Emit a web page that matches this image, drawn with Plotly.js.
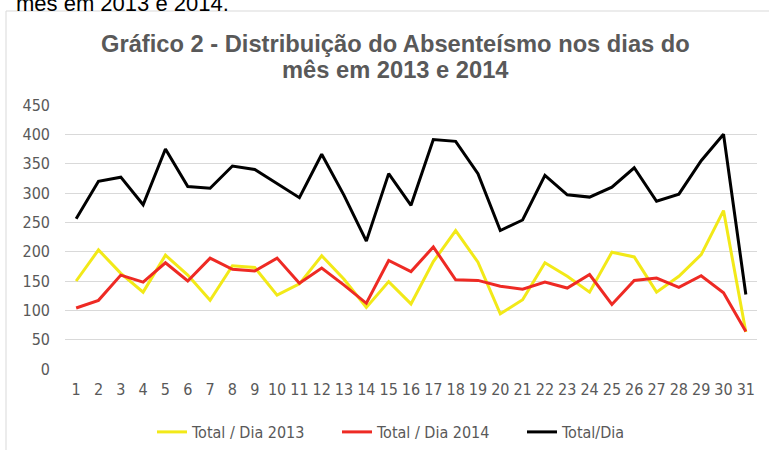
<!DOCTYPE html>
<html><head><meta charset="utf-8">
<script src="https://cdn.plot.ly/plotly-3.0.1.min.js"></script>
<style>body{margin:0;background:#fff}#chart{width:769px;height:450px}</style>
</head><body><div id="chart"></div>
<script>
const days = [1,2,3,4,5,6,7,8,9,10,11,12,13,14,15,16,17,18,19,20,21,22,23,24,25,26,27,28,29,30,31];
const total2013 = [150,203,163,131,194,160,117,176,173,126,145,193,153,105,149,111,183,236,182,94,118,181,158,131,199,191,131,158,195,270,63];
const total2014 = [104,117,160,148,181,150,189,170,167,189,146,172,143,112,185,166,208,152,151,141,136,148,138,161,110,151,155,139,159,130,64];
const totalDia = [256,320,327,280,375,311,308,346,340,316,292,366,296,218,333,279,391,388,333,236,254,330,297,293,310,343,286,298,355,400,127];
const yTicks = [0,50,100,150,200,250,300,350,400,450];
const titleLines = ['Gráfico 2 - Distribuição do Absenteísmo nos dias do', 'mês em 2013 e 2014'];

const W = 769, H = 450, L = 65, R = 12, T = 105, B = 81;
const PW = W - L - R, PH = H - T - B;
const px = x => (x - L) / PW;
const py = y => 1 - (y - T) / PH;

const tickFont = {family:'"DejaVu Sans Condensed", "Liberation Sans", Arial, sans-serif', size:16, color:'#595959'};
const titleFont = {family:'"Liberation Sans", Arial, sans-serif', size:23.7, color:'#595959', weight:'bold'};
const traces = [
  {x:days, y:total2013, name:'Total / Dia 2013', mode:'lines', line:{color:'#f2e918', width:3}},
  {x:days, y:total2014, name:'Total / Dia 2014', mode:'lines', line:{color:'#ee2a24', width:3}},
  {x:days, y:totalDia, name:'Total/Dia', mode:'lines', line:{color:'#000000', width:3}}
];
const layout = {
  width:W, height:H,
  margin:{l:L, r:R, t:T, b:B},
  paper_bgcolor:'#fff', plot_bgcolor:'#fff',
  xaxis:{range:[0.5,31.5], tickmode:'array', tickvals:days, ticktext:days.map(String), showgrid:false, zeroline:false, showline:false, ticks:'', ticklabelstandoff:9, tickfont:tickFont, fixedrange:true},
  yaxis:{range:[0,450], tickmode:'array', tickvals:yTicks, showgrid:true, gridcolor:'#d9d9d9', gridwidth:1, zeroline:false, showline:false, ticks:'', ticklabelstandoff:14, tickfont:tickFont, fixedrange:true},
  showlegend:true,
  legend:{orientation:'h', x:152/W, xref:'container', xanchor:'left', y:18/450, yref:'container', yanchor:'middle', font:tickFont, traceorder:'normal', bgcolor:'rgba(0,0,0,0)', entrywidth:140, entrywidthmode:'pixels'},
  shapes:[{type:'rect', xref:'paper', yref:'paper', x0:px(6), x1:px(W+10), y0:py(H+10), y1:py(11), line:{color:'#d9d9d9', width:1}, fillcolor:'rgba(0,0,0,0)', layer:'below'}],
  annotations:[
    {text:'mês em 2013 e 2014.', xref:'paper', yref:'paper', x:px(14), y:py(18), xanchor:'left', yanchor:'bottom', showarrow:false, font:{family:'"Liberation Sans", Arial, sans-serif', size:22, color:'#000'}},
    {text:titleLines[0], xref:'paper', yref:'paper', x:px(395), y:py(44), xanchor:'center', yanchor:'middle', showarrow:false, font:titleFont},
    {text:titleLines[1], xref:'paper', yref:'paper', x:px(395), y:py(70), xanchor:'center', yanchor:'middle', showarrow:false, font:titleFont}
  ]
};
Plotly.newPlot('chart', traces, layout, {displayModeBar:false, staticPlot:true});
</script></body></html>
